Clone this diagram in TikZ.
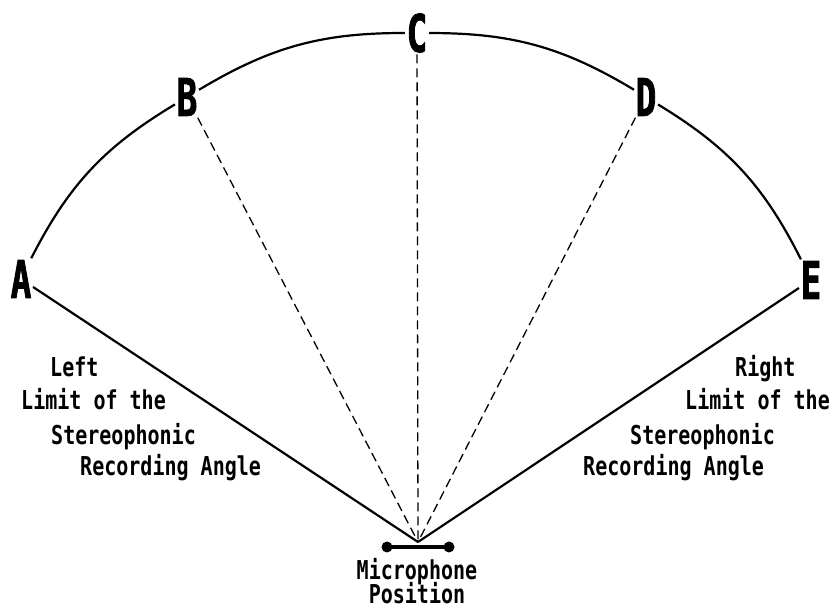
\documentclass[tikz,border=0pt]{standalone}
\usepackage{fontspec}
\newfontfamily\labfont{DejaVu Sans Mono}[FakeStretch=0.77]
\newfontfamily\letfont{DejaVu Sans Mono}[FakeStretch=0.66, FakeBold=1.5]
\begin{document}
\begin{tikzpicture}[x=1pt,y=1pt,
  letter/.style={font=\letfont\bfseries\fontsize{52}{52}\selectfont, inner sep=1.5pt},
  lab/.style={font=\labfont\bfseries\fontsize{26}{26}\selectfont, inner sep=0pt, anchor=base west},
  arcline/.style={line width=2.2pt},
  limitline/.style={line width=2.2pt},
  ray/.style={line width=1.3pt, dash pattern=on 9pt off 5pt}]
\useasboundingbox (0,0) rectangle (833,610);
% letters on the arc
\node[letter] (A) at (21,331) {A};
\node[letter] (B) at (187,513) {B};
\node[letter] (C) at (417,577) {C};
\node[letter] (D) at (646,513) {D};
\node[letter] (E) at (811,330) {E};
% arc
\draw[arcline] (A) to[bend left=16] (B);
\draw[arcline] (B) to[bend left=15.5] (C);
\draw[arcline] (C) to[bend left=15.5] (D);
\draw[arcline] (D) to[bend left=16] (E);
% microphone
\coordinate (M) at (418,68);
\coordinate (ml) at (387,63);
\coordinate (mr) at (449,63);
\draw[line width=4pt] (ml) -- (mr);
\fill (ml) circle (5.5);
\fill (mr) circle (5.5);
% limit lines and rays
\draw[limitline] (A) -- (M);
\draw[limitline] (E) -- (M);
\draw[ray] (B) -- (M);
\draw[ray] (C) -- (M);
\draw[ray] (D) -- (M);
% labels
\node[lab] (l1) at (50,233) {Left};
\node[lab] (l2) at (21,200) {Limit of the};
\node[lab] (l3) at (51,165) {Stereophonic};
\node[lab] (l4) at (80,134) {Recording Angle};
\node[lab] (r1) at (735,233) {Right};
\node[lab] (r2) at (685,200) {Limit of the};
\node[lab] (r3) at (630,165) {Stereophonic};
\node[lab] (r4) at (583,134) {Recording Angle};
\node[lab, anchor=base] (m1) at (417,30) {Microphone};
\node[lab, anchor=base] (m2) at (417,6) {Position};
\end{tikzpicture}
\end{document}
